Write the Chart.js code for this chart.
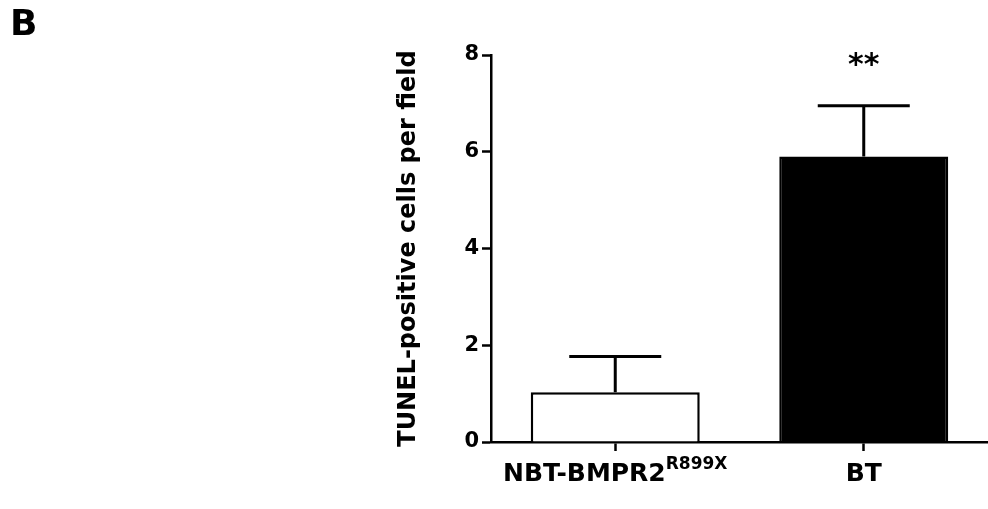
<!DOCTYPE html>
<html>
<head>
<meta charset="utf-8">
<script src="https://cdn.jsdelivr.net/npm/chart.js@4"></script>
<style>
  html, body { margin: 0; padding: 0; background: #fff; }
</style>
</head>
<body>
<canvas id="chart" width="988" height="509"></canvas>
<script>
// Data
const groups = ["NBT-BMPR2", "BT"];
const groupSup = ["R899X", ""];
const means = [1.03, 5.9];
const sem = [0.74, 1.05];
const stars = ["", "**"];
const yTicks = [0, 2, 4, 6, 8];

const FONT = "'DejaVu Sans', 'Liberation Sans', Arial, sans-serif";

// Error bars (upper only), significance marks and x labels with superscript
const extras = {
  id: "extras",
  afterDatasetsDraw(chart) {
    const ctx = chart.ctx;
    const y = chart.scales.y;
    const x = chart.scales.x;
    const meta = chart.getDatasetMeta(0);
    ctx.save();
    ctx.strokeStyle = "#000";
    ctx.fillStyle = "#000";
    ctx.lineWidth = 3;
    meta.data.forEach((bar, i) => {
      const top = y.getPixelForValue(means[i]);
      const errTop = y.getPixelForValue(means[i] + sem[i]);
      ctx.beginPath();
      ctx.moveTo(bar.x, top);
      ctx.lineTo(bar.x, errTop);
      ctx.moveTo(bar.x - 46, errTop);
      ctx.lineTo(bar.x + 46, errTop);
      ctx.stroke();
      if (stars[i]) {
        ctx.font = "bold 30px " + FONT;
        ctx.textAlign = "center";
        ctx.textBaseline = "middle";
        ctx.fillText(stars[i], bar.x, errTop - 40);
      }
    });

    // category labels
    const baseY = chart.chartArea.bottom + 39;
    groups.forEach((g, i) => {
      const cx = x.getPixelForValue(i);
      ctx.font = "bold 25px " + FONT;
      const w1 = ctx.measureText(g).width;
      ctx.font = "bold 17px " + FONT;
      const w2 = groupSup[i] ? ctx.measureText(groupSup[i]).width : 0;
      const start = cx - (w1 + w2) / 2;
      ctx.textAlign = "left";
      ctx.textBaseline = "alphabetic";
      ctx.font = "bold 25px " + FONT;
      ctx.fillText(g, start, baseY);
      if (groupSup[i]) {
        ctx.font = "bold 17px " + FONT;
        ctx.fillText(groupSup[i], start + w1, baseY - 12);
      }
    });

    // panel letter
    ctx.font = "bold 36px " + FONT;
    ctx.textAlign = "left";
    ctx.textBaseline = "top";
    ctx.fillText("B", 10, 8);
    ctx.restore();
  }
};

const ctx = document.getElementById("chart").getContext("2d");
new Chart(ctx, {
  type: "bar",
  data: {
    labels: groups,
    datasets: [
      {
        data: means,
        backgroundColor: ["#fff", "#000"],
        borderColor: "#000",
        borderWidth: 2.5,
        barPercentage: 0.68,
        categoryPercentage: 1,
      },
    ],
  },
  options: {
    responsive: false,
    animation: false,
    layout: { padding: { left: 390, right: -5, top: 55, bottom: 58 } },
    plugins: {
      legend: { display: false },
      tooltip: { enabled: false },
    },
    scales: {
      x: {
        offset: true,
        border: { color: "#000", width: 2.5 },
        grid: {
          drawOnChartArea: false,
          drawTicks: true,
          tickLength: 9,
          tickWidth: 2.5,
          tickColor: "#000",
          offset: false,
        },
        ticks: { display: false },
      },
      y: {
        min: 0,
        max: 8,
        afterBuildTicks: (scale) => {
          scale.ticks = yTicks.map((v) => ({ value: v }));
        },
        afterFit: (scale) => {
          scale.width = 101;
        },
        border: { color: "#000", width: 2.5 },
        grid: {
          drawOnChartArea: false,
          drawTicks: true,
          tickLength: 9,
          tickWidth: 2.5,
          tickColor: "#000",
        },
        ticks: {
          color: "#000",
          padding: 3,
          font: { family: FONT, size: 21, weight: "bold" },
        },
        title: {
          display: true,
          text: "TUNEL-positive cells per field",
          color: "#000",
          font: { family: FONT, size: 24, weight: "bold" },
        },
      },
    },
  },
  plugins: [extras],
});
</script>
</body>
</html>
